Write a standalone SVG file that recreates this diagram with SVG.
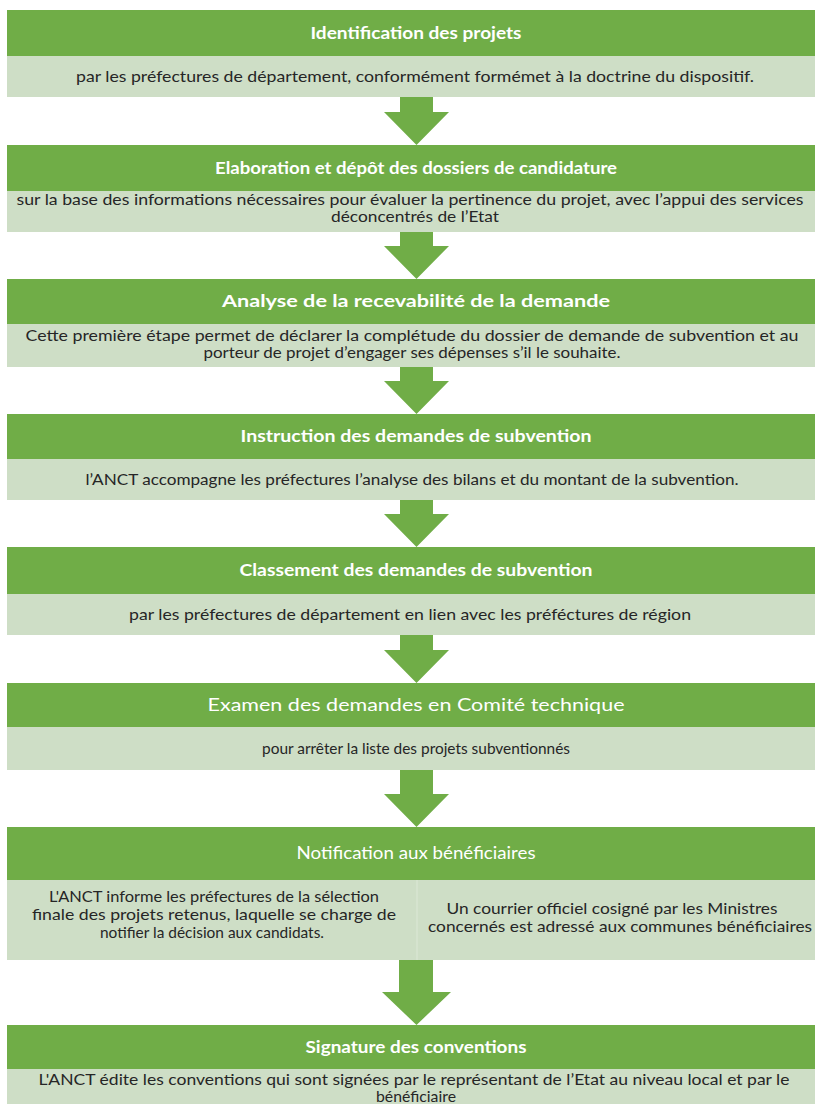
<svg xmlns="http://www.w3.org/2000/svg" width="815" height="1104" viewBox="0 0 815 1104">
<style>
.hd{fill:#70AD47}
.lt{fill:#CEDEC6}
.ar{fill:#70AD47}
.ht{font-family:Lato,"Open Sans",sans-serif;font-size:17px;font-weight:bold;fill:#fff;text-anchor:middle}
.hr{font-family:Lato,"Open Sans",sans-serif;font-size:17px;fill:#fff;text-anchor:middle}
.bt{font-family:Lato,"Open Sans",sans-serif;font-size:16px;fill:#262626;text-anchor:middle}
</style>
<rect width="815" height="1104" fill="#fff"/>
<g id="step1">
<rect class="hd" x="7" y="10" width="808" height="46"/>
<rect class="lt" x="7" y="56" width="808" height="41"/>
<text class="ht" x="416" y="39" textLength="211" lengthAdjust="spacingAndGlyphs">Identification des projets</text>
<text class="bt" x="415" y="82" textLength="678" lengthAdjust="spacingAndGlyphs">par les préfectures de département, conformément formémet à la doctrine du dispositif.</text>
</g>
<g id="step2">
<rect class="hd" x="7" y="145" width="808" height="46"/>
<rect class="lt" x="7" y="191" width="808" height="41"/>
<text class="ht" x="416" y="174" textLength="402" lengthAdjust="spacingAndGlyphs">Elaboration et dépôt des dossiers de candidature</text>
<text class="bt" x="410" y="205" textLength="787" lengthAdjust="spacingAndGlyphs">sur la base des informations nécessaires pour évaluer la pertinence du projet, avec l’appui des services</text>
<text class="bt" x="415" y="222" textLength="168" lengthAdjust="spacingAndGlyphs">déconcentrés de l’Etat</text>
</g>
<g id="step3">
<rect class="hd" x="7" y="279" width="808" height="45"/>
<rect class="lt" x="7" y="324" width="808" height="43"/>
<text class="ht" x="416" y="307" textLength="388" lengthAdjust="spacingAndGlyphs">Analyse de la recevabilité de la demande</text>
<text class="bt" x="412" y="341" textLength="773" lengthAdjust="spacingAndGlyphs">Cette première étape permet de déclarer la complétude du dossier de demande de subvention et au</text>
<text class="bt" x="412" y="358" textLength="417" lengthAdjust="spacingAndGlyphs">porteur de projet d’engager ses dépenses s’il le souhaite.</text>
</g>
<g id="step4">
<rect class="hd" x="7" y="414" width="808" height="45"/>
<rect class="lt" x="7" y="459" width="808" height="41"/>
<text class="ht" x="416" y="442" textLength="351" lengthAdjust="spacingAndGlyphs">Instruction des demandes de subvention</text>
<text class="bt" x="412" y="485" textLength="653" lengthAdjust="spacingAndGlyphs">l’ANCT accompagne les préfectures  l’analyse des bilans et du montant de la subvention.</text>
</g>
<g id="step5">
<rect class="hd" x="7" y="547" width="808" height="47"/>
<rect class="lt" x="7" y="594" width="808" height="41"/>
<text class="ht" x="416" y="576" textLength="353" lengthAdjust="spacingAndGlyphs">Classement des demandes de subvention</text>
<text class="bt" x="410" y="620" textLength="562" lengthAdjust="spacingAndGlyphs">par les préfectures de département en lien avec les préféctures de région</text>
</g>
<g id="step6">
<rect class="hd" x="7" y="683" width="808" height="44"/>
<rect class="lt" x="7" y="727" width="808" height="43"/>
<text class="hr" x="416" y="711" textLength="417" lengthAdjust="spacingAndGlyphs">Examen des demandes en Comité technique</text>
<text class="bt" x="416" y="754" textLength="308" lengthAdjust="spacingAndGlyphs">pour arrêter la liste des projets subventionnés</text>
</g>
<g id="step7">
<rect class="hd" x="7" y="827" width="808" height="53"/>
<rect class="lt" x="7" y="880" width="808" height="80"/>
<line x1="417" y1="880" x2="417" y2="960" stroke="#DCE8D6" stroke-width="1"/>
<text class="hr" x="416" y="859" font-size="18" textLength="239" lengthAdjust="spacingAndGlyphs">Notification aux bénéficiaires</text>
<text class="bt" x="214" y="902" textLength="330" lengthAdjust="spacingAndGlyphs">L'ANCT informe les préfectures de la sélection</text>
<text class="bt" x="214" y="920" textLength="364" lengthAdjust="spacingAndGlyphs">finale des projets retenus, laquelle se charge de</text>
<text class="bt" x="212" y="938" textLength="224" lengthAdjust="spacingAndGlyphs">notifier la décision aux candidats.</text>
<text class="bt" x="612" y="914" textLength="331" lengthAdjust="spacingAndGlyphs">Un courrier officiel cosigné par les Ministres</text>
<text class="bt" x="620" y="932" textLength="384" lengthAdjust="spacingAndGlyphs">concernés est adressé aux communes bénéficiaires</text>
</g>
<g id="step8">
<rect class="hd" x="7" y="1025" width="808" height="44"/>
<rect class="lt" x="7" y="1069" width="808" height="35"/>
<text class="ht" x="416" y="1053" textLength="221" lengthAdjust="spacingAndGlyphs">Signature des conventions</text>
<text class="bt" x="414" y="1085" textLength="751" lengthAdjust="spacingAndGlyphs">L'ANCT édite les conventions qui sont signées par le représentant de l’Etat au niveau local et par le</text>
<text class="bt" x="416" y="1102" textLength="80" lengthAdjust="spacingAndGlyphs">bénéficiaire</text>
</g>
<g id="connectors">
<polygon class="ar" points="400,97 433,97 433,112 449,112 416.5,145 384,112 400,112"/>
<polygon class="ar" points="400,232 433,232 433,246 449,246 416.5,279 384,246 400,246"/>
<polygon class="ar" points="400,367 433,367 433,381 449,381 416.5,414 384,381 400,381"/>
<polygon class="ar" points="400,500 433,500 433,514 449,514 416.5,547 384,514 400,514"/>
<polygon class="ar" points="400,635 433,635 433,650 449,650 416.5,683 384,650 400,650"/>
<polygon class="ar" points="400,770 433,770 433,794 449,794 416.5,827 384,794 400,794"/>
<polygon class="ar" points="399,960 433,960 433,992 451,992 416.5,1025 382,992 399,992"/>
</g>
</svg>
